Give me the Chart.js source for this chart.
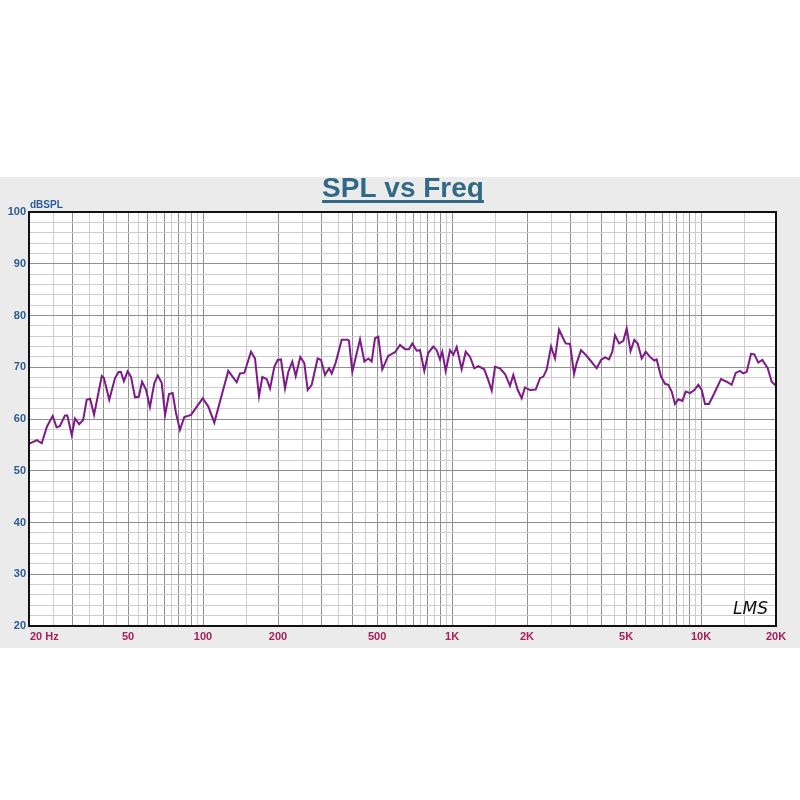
<!DOCTYPE html>
<html>
<head>
<meta charset="utf-8">
<script src="https://cdn.jsdelivr.net/npm/chart.js@4.4.1/dist/chart.umd.min.js"></script>
<style>
  body { margin: 0; background: #ffffff; }
  #band { position: absolute; left: 0; top: 177px; width: 800px; height: 471px; background: #ebebeb; }
  #splChart { display: block; }
</style>
</head>
<body>
<div id="band"><canvas id="splChart" width="800" height="471"></canvas></div>
<script>
var freqHz = [20, 21.5, 22.5, 23.6, 24.9, 25.8, 26.6, 27.9, 28.5, 29.7, 30.6, 31.8, 33.0, 34.1, 35.2, 36.5, 39.2, 40.0, 42.0, 44.3,
  45.8, 46.8, 48.1, 49.8, 51.4, 53.3, 55.2, 56.9, 59.0, 61.2, 63.7, 65.8, 68.2, 70.4, 73.0, 75.5, 77.9,
  80.8, 84.1, 89.5, 99.7, 105, 111, 118.8, 126.3, 136.5, 140.7, 146.5, 155.8, 161.7, 167.8, 173, 180.2, 185.8, 193.3, 199.4, 205.6,
  213.4, 220, 228.3, 235.6, 245.8, 255.1, 263.2, 273.1, 288.6, 297.6, 308.9, 320.6,
  328.7, 341, 360.4, 381, 385.6, 397.6, 427, 444.4, 461.2, 475.6, 490.4, 505.6, 524.6, 554.6, 590.2, 618, 647.2, 671.6, 692.6, 721.2,
  743.6, 773.8, 802.8, 841, 867.8, 894.6, 913.8, 943.2, 981.4, 1012, 1044, 1093, 1135, 1181, 1229, 1275,
  1347, 1398, 1443, 1488, 1558, 1632, 1709, 1762, 1836, 1904, 1963, 2056, 2168, 2256, 2326, 2400, 2498, 2592, 2690, 2774,
  2860, 2978, 3090, 3166, 3296, 3442, 3582, 3810, 3966, 4116, 4270, 4402, 4512, 4684, 4874, 5028,
  5210, 5394, 5568, 5776, 5994, 6238, 6490, 6636, 6906, 7166, 7388, 7624, 7860, 8104, 8410, 8678, 9030, 9398, 9750, 10062,
  10374, 10764, 11202, 12026, 12678, 13274, 13778, 14336, 14782, 15254, 15874, 16368, 16984, 17620, 18522, 19218, 20000];

var splDb = [55.2, 55.9, 55.3, 58.5, 60.6, 58.4, 58.6, 60.7, 60.7, 56.9, 60.1, 59.0, 59.8, 63.7, 63.9, 60.8, 68.3, 67.9, 63.7, 67.9,
  69.1, 69.1, 67.3, 69.2, 68.1, 64.2, 64.3, 67.2, 65.7, 62.3, 66.9, 68.4, 67.0, 60.8, 64.8, 65.0, 61.1,
  57.9, 60.4, 60.8, 64.0, 62.4, 59.3, 64.6, 69.3, 67.1, 68.8, 68.9, 73.0, 71.7, 64.4, 68.1, 67.7, 65.9, 70.1, 71.4, 71.5,
  65.9, 69.1, 71.1, 68.3, 72.0, 70.8, 65.6, 66.6, 71.7, 71.4, 68.5, 69.8,
  68.8, 70.9, 75.3, 75.3, 75.1, 69.1, 75.4, 71.1, 71.7, 71.1, 75.6, 75.9, 69.6, 72.2, 72.9, 74.3, 73.5, 73.5, 74.6, 73.2,
  73.3, 69.3, 72.8, 74.0, 73.3, 71.5, 73.0, 69.3, 73.3, 72.4, 73.9, 69.6, 73.0, 72.0, 69.8, 70.2,
  69.6, 67.5, 65.5, 70.1, 69.8, 68.7, 66.4, 68.5, 65.6, 64.0, 66.1, 65.6, 65.7, 67.9, 68.2, 69.6, 74.0, 71.7, 77.3, 75.9,
  74.6, 74.5, 68.7, 70.8, 73.3, 72.4, 71.4, 69.8, 71.4, 71.9, 71.5, 73.0, 76.2, 74.6, 75.1, 77.5,
  73.1, 75.3, 74.6, 71.7, 73.0, 72.0, 71.3, 71.5, 68.2, 66.8, 66.6, 65.3, 62.9, 63.8, 63.5, 65.3, 65.0, 65.6, 66.6, 65.6,
  62.9, 62.9, 64.6, 67.7, 67.2, 66.6, 68.9, 69.3, 68.8, 69.1, 72.6, 72.5, 70.9, 71.4, 69.8, 67.2, 66.4];

// labelled frequency ticks
var xTickValues = [20, 50, 100, 200, 500, 1000, 2000, 5000, 10000, 20000];
var xTickLabels = ['          20 Hz', '50', '100', '200', '500', '1K', '2K', '5K', '10K', '20K'];
var yTickLabels = ['20', '30', '40', '50', '60', '70', '80', '90', '100'];

// grid lines: 5 steps per decade 20..100, 50 steps 100..1k, etc.
var gridFreqs = [];
for (var f = 20; f <= 100; f += 5) gridFreqs.push(f);
for (var f = 150; f <= 1000; f += 50) gridFreqs.push(f);
for (var f = 1500; f <= 10000; f += 500) gridFreqs.push(f);
gridFreqs.push(15000, 20000);

function isDecadeMultiple(v) {
  var p = Math.pow(10, Math.floor(Math.log10(v) + 1e-9));
  return Math.abs(v / p - Math.round(v / p)) < 1e-6;
}

var points = freqHz.map(function (f, i) { return { x: f, y: splDb[i] }; });

var boxPlugin = {
  id: 'box',
  beforeDraw: function (chart) {
    var a = chart.chartArea, ctx = chart.ctx;
    ctx.save();
    ctx.fillStyle = '#ffffff';
    ctx.fillRect(a.left, a.top, a.right - a.left, a.bottom - a.top);
    ctx.restore();
  },
  afterDraw: function (chart) {
    var a = chart.chartArea, ctx = chart.ctx;
    ctx.save();
    ctx.strokeStyle = '#111111';
    ctx.lineWidth = 2;
    ctx.strokeRect(a.left, a.top, a.right - a.left, a.bottom - a.top);

    // title, underlined
    ctx.fillStyle = '#306a87';
    ctx.font = 'bold 28px "Liberation Sans", Arial, sans-serif';
    ctx.textAlign = 'center';
    ctx.textBaseline = 'alphabetic';
    var title = 'SPL vs Freq';
    ctx.fillText(title, 403, 20);
    var w = ctx.measureText(title).width;
    ctx.fillRect(403 - w / 2, 23, w, 3);

    // unit label
    ctx.font = 'bold 10px "Liberation Sans", Arial, sans-serif';
    ctx.fillStyle = '#2b5c94';
    ctx.textAlign = 'left';
    ctx.fillText('dBSPL', 30, 31);

    // logo
    ctx.font = 'italic 17px "DejaVu Sans", sans-serif';
    ctx.fillStyle = '#111111';
    ctx.fillText('LMS', 733, a.bottom - 12);
    ctx.restore();
  }
};

var ctx = document.getElementById('splChart').getContext('2d');
var splChart = new Chart(ctx, {
  type: 'line',
  data: {
    datasets: [{
      data: points,
      borderColor: '#7d1a87',
      borderWidth: 2,
      pointRadius: 0,
      tension: 0,
      fill: false
    }]
  },
  options: {
    responsive: false,
    animation: false,
    devicePixelRatio: 1,
    layout: { padding: { left: 0, right: 24, top: 35, bottom: 0 } },
    plugins: {
      legend: { display: false },
      tooltip: { enabled: false }
    },
    scales: {
      x: {
        type: 'logarithmic',
        min: 20,
        max: 20000,
        afterBuildTicks: function (scale) {
          scale.ticks = gridFreqs.map(function (v) { return { value: v }; });
        },
        afterFit: function (scale) {
          scale.height = 22;
          scale.paddingLeft = 0;
          scale.paddingRight = 0;
        },
        border: { display: false },
        grid: {
          drawTicks: false,
          color: function (c) {
            return isDecadeMultiple(c.tick.value) ? '#8f8f8f' : '#cdcdcd';
          }
        },
        ticks: {
          autoSkip: false,
          maxRotation: 0,
          padding: 4,
          color: '#a61e5a',
          font: { family: '"Liberation Sans", Arial, sans-serif', size: 11, weight: 'bold' },
          callback: function (value) {
            var k = xTickValues.indexOf(value);
            return k >= 0 ? xTickLabels[k] : '';
          }
        }
      },
      y: {
        min: 20,
        max: 100,
        afterFit: function (scale) { scale.width = 29; },
        border: { display: false },
        grid: {
          drawTicks: false,
          color: function (c) {
            return c.tick.value % 10 === 0 ? '#8f8f8f' : '#cdcdcd';
          }
        },
        ticks: {
          stepSize: 2,
          autoSkip: false,
          padding: 3,
          color: '#2b5c94',
          font: { family: '"Liberation Sans", Arial, sans-serif', size: 11, weight: 'bold' },
          callback: function (value) {
            var k = yTickLabels.indexOf(String(value));
            return k >= 0 ? yTickLabels[k] : '';
          }
        }
      }
    }
  },
  plugins: [boxPlugin]
});
</script>
</body>
</html>
